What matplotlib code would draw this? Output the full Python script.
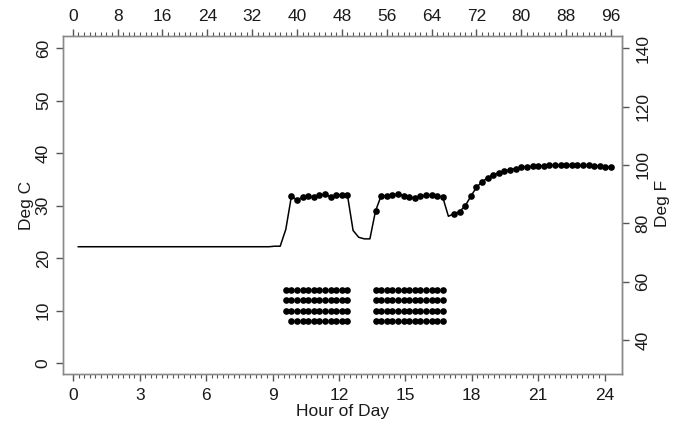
import numpy as np
import matplotlib
matplotlib.use("Agg")
import matplotlib.pyplot as plt
from matplotlib.ticker import FixedLocator

plt.rcParams['font.family'] = ['Liberation Sans', 'DejaVu Sans']

# 15-minute interval index (top axis) and temperature in deg C
interval = list(range(1, 97))
temp_c = ([22.2] * 35 +
          [22.3, 22.3, 25.5] +
          [31.8, 31.1, 31.6, 31.9, 31.6, 32.0, 32.2, 31.7, 32.0, 32.0, 32.0] +
          [25.3, 24.0, 23.7, 23.7] +
          [29.0] +
          [31.9, 31.9, 32.0, 32.3, 31.9, 31.7, 31.4, 31.8, 32.0, 32.0, 31.9, 31.6] +
          [28.0] +
          [28.5, 28.9, 30.0, 31.8, 33.5, 34.6, 35.3, 35.9, 36.3, 36.6, 36.9, 37.1,
           37.3, 37.4, 37.5, 37.6, 37.6, 37.7, 37.7, 37.7, 37.7, 37.7, 37.7, 37.7,
           37.7, 37.6, 37.6, 37.4, 37.4])
# intervals whose reading is marked with a dot
dot_intervals = list(range(39, 50)) + list(range(54, 67)) + list(range(68, 97))

# rows of markers below the curve (level in deg C, intervals)
row_levels = [14, 12, 10, 8]
row_intervals = [
    list(range(38, 50)) + list(range(54, 67)),
    list(range(38, 50)) + list(range(54, 67)),
    list(range(38, 50)) + list(range(54, 67)),
    list(range(39, 50)) + list(range(54, 67)),
]

hour_ticks = [0, 3, 6, 9, 12, 15, 18, 21, 24]
interval_ticks = [0, 8, 16, 24, 32, 40, 48, 56, 64, 72, 80, 88, 96]
c_ticks = [0, 10, 20, 30, 40, 50, 60]
f_ticks = [40, 60, 80, 100, 120, 140]

gray = '#8a8a8a'
tcol = '#1a1a1a'
fs = 12.5

fig = plt.figure(figsize=(6.76, 4.25), dpi=100)
ax = fig.add_axes([63.3 / 676, 1 - 374 / 425, (622 - 63.3) / 676, (374 - 36) / 425])
ax.set_xlim(-0.452, 24.79)
ax.set_ylim(-2.04, 62.34)
for s in ax.spines.values():
    s.set_color(gray)
    s.set_linewidth(1.0)

ax.xaxis.set_major_locator(FixedLocator(hour_ticks))
ax.xaxis.set_minor_locator(FixedLocator(list(np.arange(0, 24.001, 0.25))))
ax.yaxis.set_major_locator(FixedLocator(c_ticks))
ax.tick_params(axis='x', which='major', length=5, width=1, color='#555555',
               labelsize=fs, labelcolor=tcol, pad=5)
ax.tick_params(axis='x', which='minor', length=3, width=0.8, color='#555555')
ax.tick_params(axis='y', which='major', length=5, width=1, color='#555555',
               labelsize=fs, labelcolor=tcol, pad=4)
for lab in ax.get_yticklabels():
    lab.set_rotation(90)
    lab.set_va('center')

ax.set_xlabel('Hour of Day', fontsize=fs, color=tcol, labelpad=1)
ax.set_ylabel('Deg C', fontsize=fs, color=tcol, labelpad=1)

axt = ax.twiny()
axt.set_xlim(-1.68, 97.96)
for s in axt.spines.values():
    s.set_color(gray)
    s.set_linewidth(1.0)
axt.xaxis.set_major_locator(FixedLocator(interval_ticks))
axt.xaxis.set_minor_locator(FixedLocator(list(range(0, 97))))
axt.tick_params(axis='x', which='major', length=5, width=1, color='#555555',
                labelsize=fs, labelcolor=tcol, pad=4)
axt.tick_params(axis='x', which='minor', length=3, width=0.8, color='#555555')

axt.plot(interval, temp_c, color='black', lw=1.1)
dx = [k for k in dot_intervals]
dy = [temp_c[k - 1] for k in dot_intervals]
axt.plot(dx, dy, 'o', color='black', ms=4.8, mew=0)
for lev, ks in zip(row_levels, row_intervals):
    axt.plot(ks, [lev] * len(ks), 'o', color='black', ms=4.8, mew=0)

sec = ax.secondary_yaxis('right', functions=(lambda c: c * 1.8 + 32,
                                             lambda f: (f - 32) / 1.8))
sec.set_yticks(f_ticks)
sec.spines['right'].set_color(gray)
sec.tick_params(axis='y', length=5, width=1, color='#555555',
                labelsize=fs, labelcolor=tcol, pad=4.5)
for lab in sec.get_yticklabels():
    lab.set_rotation(90)
    lab.set_va('center')
fig.text(662 / 676, 1 - 203 / 425, 'Deg F', rotation=90, fontsize=fs,
         color=tcol, ha='center', va='center')

fig.savefig('out.png', dpi=100)
